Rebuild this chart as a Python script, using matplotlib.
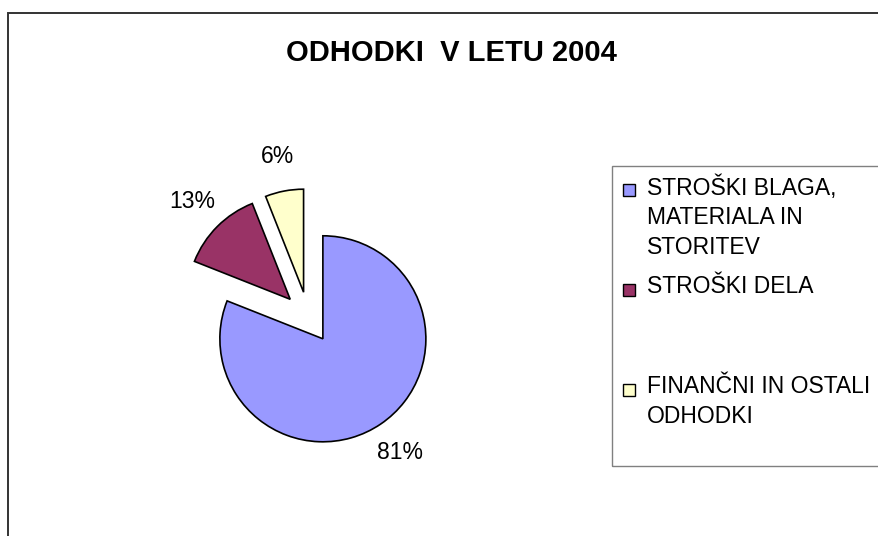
import matplotlib.pyplot as plt
from matplotlib.patches import Rectangle

plt.rcParams['font.family'] = ['Liberation Sans', 'DejaVu Sans']

# data
labels = ['STROŠKI BLAGA,\nMATERIALA IN\nSTORITEV', 'STROŠKI DELA', 'FINANČNI IN OSTALI\nODHODKI']
values = [81, 13, 6]
colors = ['#9999FF', '#993366', '#FFFFCC']
title = 'ODHODKI  V LETU 2004'

W, H = 879, 536


def px(x, y):
    # pixel (from top-left) -> figure fraction
    return x / W, 1 - y / H


fig = plt.figure(figsize=(W / 100, H / 100), dpi=100)

# outer chart border (right/bottom are cut off in the original)
fig.add_artist(Rectangle(px(8, 600), (W + 50) / W, (600 - 13) / H,
                         transform=fig.transFigure, fill=False,
                         edgecolor='#333333', linewidth=1.4))

fig.text(*px(451, 53), title, ha='center', va='center',
         fontsize=21, fontweight='bold')

# pie axes: 1 data unit = 103 px, centre at (308, 318)
r = 103
cx, cy = 308.4, 317.5
left, bottom = px(cx - 2 * r, cy + 2 * r)
ax = fig.add_axes([left, bottom, 4 * r / W, 4 * r / H])
wedges, texts, autotexts = ax.pie(
    values, colors=colors, startangle=90, counterclock=False,
    explode=[0.25] * len(values), autopct='%1.0f%%', pctdistance=1.34,
    wedgeprops=dict(edgecolor='black', linewidth=1.2),
    textprops=dict(fontsize=16.5, color='black'))
ax.set_xlim(-2, 2)
ax.set_ylim(-2, 2)
ax.set_aspect('equal')
ax.axis('off')

# legend box, Excel style: equal slots, entries top aligned
lx, ly, lb = 612, 166, 466
fig.add_artist(Rectangle(px(lx, lb), (W + 50 - lx) / W, (lb - ly) / H,
                         transform=fig.transFigure, fill=False,
                         edgecolor='#808080', linewidth=1.0))
slot = (lb - ly) / len(labels)
for i, (lab, col) in enumerate(zip(labels, colors)):
    base = ly + i * slot + 30
    fig.add_artist(Rectangle(px(623, base), 12 / W, 12 / H,
                             transform=fig.transFigure, facecolor=col,
                             edgecolor='black', linewidth=1.0))
    fig.text(*px(647, base - 21), lab, ha='left', va='top',
             fontsize=16.5, linespacing=1.38)

fig.savefig('out.png', dpi=100)
